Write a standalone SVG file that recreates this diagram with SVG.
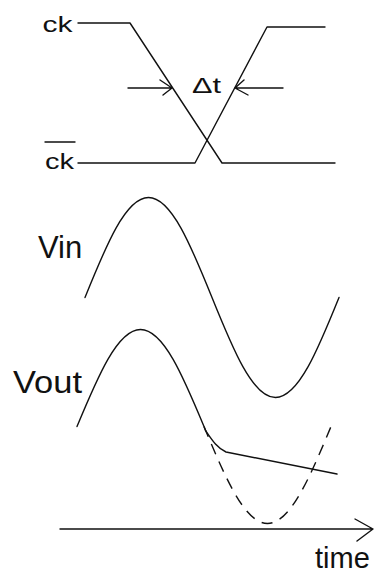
<svg xmlns="http://www.w3.org/2000/svg" width="374" height="574" viewBox="0 0 374 574">
<style>
.w{fill:none;stroke:#111;stroke-width:1.4;stroke-linejoin:round;stroke-linecap:round}
.d{stroke-dasharray:11 8;stroke-linecap:butt}
.t{font-family:"Liberation Sans",Arial,sans-serif;fill:#111}
</style>
<rect width="374" height="574" fill="#fff"/>
<g id="clock">
<text class="t" x="42.5" y="32" font-size="22" textLength="30" lengthAdjust="spacingAndGlyphs">ck</text>
<text class="t" x="45" y="169" font-size="22" textLength="29" lengthAdjust="spacingAndGlyphs">ck</text>
<line class="w" x1="45" y1="142" x2="75" y2="142"/>
<path class="w" d="M78,23 L130,23 L222,163 L335,163"/>
<path class="w" d="M78,163 L195,163 L267,27 L325,27"/>
</g>
<g id="delta-t">
<text class="t" x="192" y="93" font-size="22" textLength="29" lengthAdjust="spacingAndGlyphs">Δt</text>
<path class="w" d="M128,88 L172,88 M160,80 L172,88 L163,95"/>
<path class="w" d="M283,88 L235,88 M244,80 L235,88 L248,95"/>
</g>
<g id="vin">
<text class="t" x="38" y="258" font-size="31">Vin</text>
<path class="w" d="M85,297.5 C105.7,246.3 125.5,197.5 148.5,197.5 S191.3,246.3 212,297.5 S252.5,397.5 275.5,397.5 S318.3,348.7 339,297.5"/>
</g>
<g id="vout">
<text class="t" x="13" y="393" font-size="31" textLength="69" lengthAdjust="spacingAndGlyphs">Vout</text>
<path class="w" d="M77,426.5 C97.7,376.8 117.5,329.5 140.5,329.5 S183.3,376.8 204,426.5 L205.5,430.5 C212,440 217,448 226,452 L337,474"/>
<path class="w d" d="M204,426.5 C224.7,476.2 244.5,523.5 267.5,523.5 S310.3,476.2 331,426.5"/>
</g>
<g id="time-axis">
<path class="w" d="M60,529 L373,529 M355,519 L373,529 L357,541"/>
<text class="t" x="315" y="568" font-size="29">time</text>
</g>
</svg>
